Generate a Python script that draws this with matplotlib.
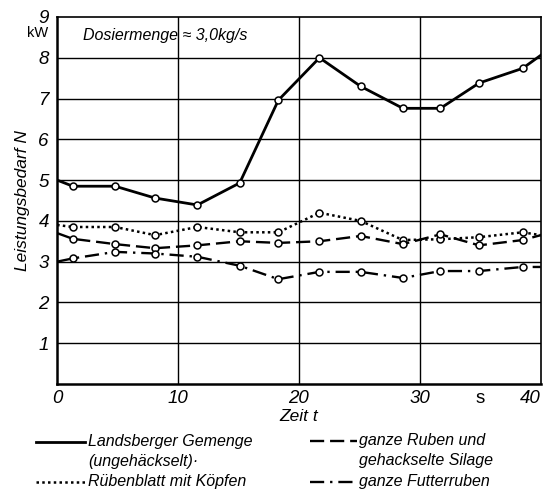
import matplotlib
matplotlib.use("Agg")
import matplotlib.pyplot as plt
from matplotlib.lines import Line2D

# ---- data ----
t_markers = [1.3, 4.8, 8.1, 11.6, 15.1, 18.3, 21.7, 25.1, 28.6, 31.7, 34.9, 38.5]

landsberger_t = [0] + t_markers + [40]
landsberger = [5.0, 4.85, 4.85, 4.56, 4.39, 4.93, 6.96, 8.0, 7.3, 6.76, 6.76, 7.38, 7.74, 8.06]

ruebenblatt_t = [0] + t_markers + [40]
ruebenblatt = [3.9, 3.85, 3.85, 3.65, 3.85, 3.72, 3.72, 4.2, 4.0, 3.53, 3.55, 3.6, 3.72, 3.65]

ruben_silage_t = [0] + t_markers + [40]
ruben_silage = [3.7, 3.56, 3.43, 3.33, 3.4, 3.5, 3.46, 3.5, 3.63, 3.43, 3.67, 3.4, 3.53, 3.65]

futterruben_t = [0] + t_markers + [40]
futterruben = [3.0, 3.08, 3.24, 3.2, 3.12, 2.9, 2.57, 2.75, 2.75, 2.6, 2.77, 2.77, 2.87, 2.87]

x_ticks = [0, 10, 20, 30, 35, 40]
x_ticklabels = ["0", "10", "20", "30", "s", "40"]
y_ticks = [1, 2, 3, 4, 5, 6, 7, 8, 9]
y_ticklabels = ["1", "2", "3", "4", "5", "6", "7", "8", "9"]

legend_labels = [
    "Landsberger Gemenge\n(ungehäckselt)·",
    "Rübenblatt mit Köpfen",
    "ganze Ruben und\ngehackselte Silage",
    "ganze Futterruben",
]

FONT = ["Liberation Sans", "DejaVu Sans"]
plt.rcParams["font.family"] = FONT

fig = plt.figure(figsize=(5.44, 4.92), dpi=100)
ax = fig.add_axes([0.105, 0.2195, 0.889, 0.746])

mk = dict(marker="o", markersize=5, markerfacecolor="white", markeredgecolor="black",
          markeredgewidth=1.1, color="black")

def plot_series(t, v, ls, lw):
    ax.plot(t, v, linestyle=ls, linewidth=lw, zorder=3, color="black")
    ax.plot(t[1:-1], v[1:-1], linestyle="none", zorder=4, **mk)

LS_SOLID = "-"
LS_DOT = (0, (1.0, 1.3))
LS_DASH = (0, (6, 2.5))
LS_DASHDOT = (0, (6, 2.5, 1, 2.5))

plot_series(landsberger_t, landsberger, LS_SOLID, 2.0)
plot_series(ruebenblatt_t, ruebenblatt, LS_DOT, 1.8)
plot_series(ruben_silage_t, ruben_silage, LS_DASH, 1.7)
plot_series(futterruben_t, futterruben, LS_DASHDOT, 1.7)

ax.set_xlim(0, 40)
ax.set_ylim(0, 9)

for y in range(1, 9):
    ax.axhline(y, color="black", lw=1.0, zorder=1)
for x in (10, 20, 30):
    ax.axvline(x, color="black", lw=1.0, zorder=1)

ax.set_xticks(x_ticks)
ax.set_xticklabels(x_ticklabels)
ax.set_yticks(y_ticks)
ax.set_yticklabels(y_ticklabels)
ax.tick_params(length=0, labelsize=13.5)
ax.tick_params(axis="x", pad=4)
ax.tick_params(axis="y", pad=6)
for lab in ax.get_xticklabels() + ax.get_yticklabels():
    if lab.get_text() != "s":
        lab.set_style("italic")
ax.get_xticklabels()[-1].set_ha("right")

for s in ("left", "bottom"):
    ax.spines[s].set_linewidth(1.8)
for s in ("top", "right"):
    ax.spines[s].set_linewidth(1.2)

ax.text(-0.75, 8.6, "kW", ha="right", va="center", fontsize=10.5)

ax.set_ylabel("Leistungsbedarf N", fontsize=12.5, style="italic", labelpad=6)
ax.set_xlabel("Zeit t", fontsize=12.5, style="italic", labelpad=2)

ax.text(2.1, 8.54, "Dosiermenge ≈ 3,0kg/s", fontsize=11.5, style="italic",
        ha="left", va="center")

# ---- legend (manual layout) ----
W, H = 544, 492
def fx(px):
    return px / W
def fy(py):
    return 1 - py / H

styles = [(LS_SOLID, 2.0), (LS_DOT, 1.8), (LS_DASH, 1.7), (LS_DASHDOT, 1.7)]
positions = [(36, 85, 88, 442), (36, 85, 88, 482), (310, 357, 359, 441), (310, 357, 359, 482)]
for (ls, lw), (x0, x1, xt, yy), lab in zip(styles, positions, legend_labels):
    fig.add_artist(Line2D([fx(x0), fx(x1)], [fy(yy), fy(yy)], transform=fig.transFigure,
                          color="black", linestyle=ls, linewidth=lw))
    fig.text(fx(xt), fy(yy - 8), lab, ha="left", va="top", fontsize=11.5, style="italic",
             linespacing=1.4)

fig.savefig("out.png", dpi=100)
